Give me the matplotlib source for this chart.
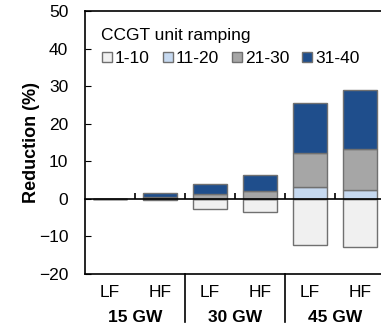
import matplotlib.pyplot as plt
from matplotlib.lines import Line2D
from matplotlib.transforms import blended_transform_factory

plt.rcParams['font.family'] = ['Liberation Sans', 'DejaVu Sans']

# scenarios: wind capacity x forecast error (LF/HF)
capacities = ['15 GW', '30 GW', '45 GW']
forecasts = ['LF', 'HF', 'LF', 'HF', 'LF', 'HF']

# reduction (%) by CCGT ramping band
ramp_labels = ['1-10', '11-20', '21-30', '31-40']
r1_10 = [0, -0.4, -2.8, -3.4, -12.3, -12.8]
r11_20 = [0, 0.1, 0.0, 0.0, 3.1, 2.4]
r21_30 = [0, 0.5, 1.3, 2.0, 9.2, 10.8]
r31_40 = [0, 1.0, 2.6, 4.3, 13.1, 15.7]
colors = ['#f0f0f0', '#c6d9f0', '#a6a6a6', '#1f4e8c']
edge = '#707070'

fig = plt.figure(figsize=(3.81, 3.26), dpi=100)
ax = fig.add_axes([85 / 381, 1 - 274 / 326, 300 / 381, 263 / 326])

x = list(range(len(forecasts)))
w = 0.67
ax.bar(x, r1_10, w, color=colors[0], edgecolor=edge, lw=1, zorder=2)
bottom = [0] * len(x)
for vals, c in zip([r11_20, r21_30, r31_40], colors[1:]):
    ax.bar(x, vals, w, bottom=bottom, color=c, edgecolor=edge, lw=1, zorder=2)
    bottom = [b + v for b, v in zip(bottom, vals)]

ax.set_xlim(-0.5, len(x) - 0.5)
ax.set_ylim(-20, 50)
ax.set_yticks(range(-20, 51, 10))
ax.tick_params(axis='y', direction='in', length=4, labelsize=12.5, pad=12)
ax.set_ylabel('Reduction (%)', fontsize=13, fontweight='bold', labelpad=-1)

# category boundaries as small ticks on the zero line
ax.spines['bottom'].set_position(('data', 0))
ax.set_xticks([i + 0.5 for i in x[:-1]])
ax.set_xticklabels([])
ax.tick_params(axis='x', direction='in', length=4, width=1.2)
for s in ax.spines.values():
    s.set_linewidth(1.2)
ax.axhline(-20, color='black', lw=1.2, clip_on=False)

# category labels under the axes
trans = blended_transform_factory(ax.transData, ax.transAxes)
for i, f in enumerate(forecasts):
    ax.text(i, -0.07, f, transform=trans, ha='center', va='center', fontsize=12.5)
for j, cap in enumerate(capacities):
    ax.text(2 * j + 0.5, -0.165, cap, transform=trans, ha='center', va='center',
            fontsize=12.5, fontweight='bold')
for j in range(1, len(capacities)):
    ax.plot([2 * j - 0.5] * 2, [0, -0.183], transform=trans, color='black',
            lw=1.2, clip_on=False)

handles = [Line2D([], [], marker='s', ls='none', markersize=6.5, markerfacecolor=c,
                  markeredgecolor=edge) for c in colors]
leg = ax.legend(handles, ramp_labels, title='CCGT unit ramping', ncol=4,
                loc='upper left', bbox_to_anchor=(0.02, 0.975), frameon=False,
                fontsize=12.5, title_fontsize=12.5, handlelength=0.6,
                handletextpad=0.15, columnspacing=0.75, borderaxespad=0.2)
leg._legend_box.align = 'left'
leg._legend_box.sep = 6

fig.savefig('out.png', dpi=100)
